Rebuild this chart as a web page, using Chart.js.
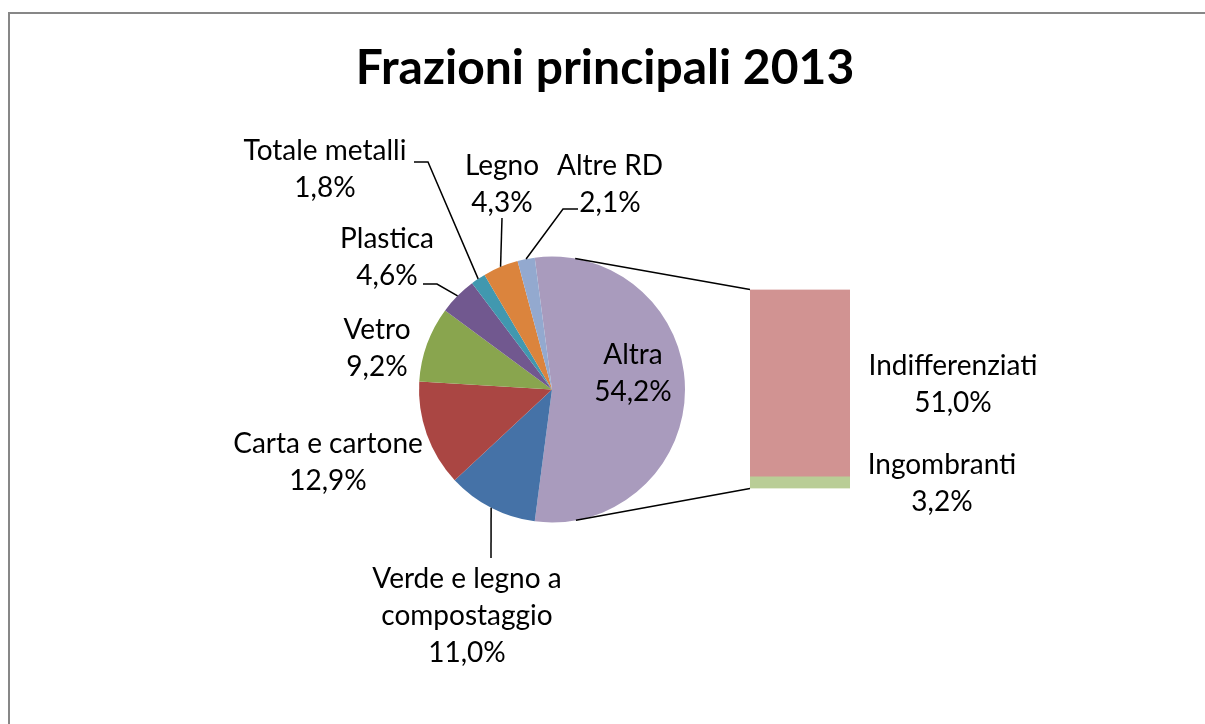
<!DOCTYPE html>
<html>
<head>
<meta charset="utf-8">
<script src="https://cdn.jsdelivr.net/npm/chart.js@4.4.1/dist/chart.umd.min.js"></script>
<style>
  html, body { margin: 0; padding: 0; background: #fff; overflow: hidden; }
  #wrap { position: relative; width: 1205px; height: 724px; }
  #frame { position: absolute; left: 8px; top: 12px; width: 1300px; height: 800px;
           border: 2px solid #878787; box-sizing: border-box; }
  canvas { position: absolute; left: 0; top: 0; }
</style>
</head>
<body>
<div id="wrap">
  <div id="frame"></div>
  <canvas id="pie" width="1205" height="724"></canvas>
  <canvas id="bar" width="1205" height="724"></canvas>
</div>
<script>
// data
const chartTitle = 'Frazioni principali 2013';
const pieLabels = ['Altra', ['Verde e legno a', 'compostaggio'], 'Carta e cartone', 'Vetro',
                   'Plastica', 'Totale metalli', 'Legno', 'Altre RD'];
const pieValues = [54.2, 11.0, 12.9, 9.2, 4.6, 1.8, 4.3, 2.1];
const pieColors = ['#A99BBD', '#4572A7', '#AA4643', '#89A54E', '#71588F', '#4198AF', '#DB843D', '#93A9CF'];
const barLabels = ['Ingombranti', 'Indifferenziati'];
const barValues = [3.2, 51.0];
const barColors = ['#B9CD96', '#D19392'];

// label layout (x centre, first baseline, leader points before the slice edge)
const pieLabelPos = [
  { x: 633, y: 364 },
  { x: 467, y: 588, leader: [[491, 558]] },
  { x: 328, y: 453 },
  { x: 377, y: 339 },
  { x: 387, y: 248, leader: [[423, 284], [437, 284]] },
  { x: 325, y: 160, leader: [[414, 162], [428, 162]] },
  { x: 502, y: 175, leader: [[502, 218]] },
  { x: 610, y: 175, leader: [[578, 209], [563, 209]] },
];
const barLabelPos = [{ x: 942, y: 474 }, { x: 953, y: 375 }];
const lineGap = 37;
const labelFont = '28px Lato';

const pct = v => v.toFixed(1).replace('.', ',') + '%';
const pieTotal = pieValues.reduce((a, b) => a + b, 0);

function drawLabel(ctx, lines, pos) {
  ctx.save();
  ctx.font = labelFont;
  ctx.fillStyle = '#000';
  ctx.textAlign = 'center';
  ctx.textBaseline = 'alphabetic';
  lines.forEach((t, i) => ctx.fillText(t, pos.x, pos.y + i * lineGap));
  ctx.restore();
}

const pieLabelPlugin = {
  id: 'pieLabels',
  afterDraw(chart) {
    const ctx = chart.ctx;
    ctx.save();
    ctx.font = 'bold 48px Lato';
    ctx.fillStyle = '#000';
    ctx.textAlign = 'center';
    ctx.fillText(chartTitle, 605, 84);
    ctx.restore();

    const arcs = chart.getDatasetMeta(0).data;
    arcs.forEach((arc, i) => {
      const pos = pieLabelPos[i];
      const name = [].concat(pieLabels[i]);
      drawLabel(ctx, name.concat(pct(pieValues[i])), pos);
      if (pos.leader) {
        const mid = (arc.startAngle + arc.endAngle) / 2;
        const ex = arc.x + arc.outerRadius * Math.cos(mid);
        const ey = arc.y + arc.outerRadius * Math.sin(mid);
        ctx.save();
        ctx.strokeStyle = '#000';
        ctx.lineWidth = 1.5;
        ctx.beginPath();
        pos.leader.forEach((p, k) => k ? ctx.lineTo(p[0], p[1]) : ctx.moveTo(p[0], p[1]));
        ctx.lineTo(ex, ey);
        ctx.stroke();
        ctx.restore();
      }
    });
  }
};

const pieChart = new Chart(document.getElementById('pie'), {
  type: 'pie',
  data: {
    labels: pieLabels,
    datasets: [{ data: pieValues, backgroundColor: pieColors, borderWidth: 0 }],
  },
  options: {
    responsive: false,
    animation: false,
    events: [],
    rotation: 90 - pieValues[0] / pieTotal * 180,
    layout: { padding: { left: 419, top: 256.5, right: 520, bottom: 201.5 } },
    plugins: { legend: { display: false }, tooltip: { enabled: false } },
  },
  plugins: [pieLabelPlugin],
});

function tangent(cx, cy, r, px, py, side) {
  const d = Math.hypot(px - cx, py - cy);
  const phi = Math.atan2(py - cy, px - cx);
  const a = phi + side * Math.acos(r / d);
  return [cx + r * Math.cos(a), cy + r * Math.sin(a)];
}

const barLabelPlugin = {
  id: 'barLabels',
  afterDraw(chart) {
    const ctx = chart.ctx;
    const topBar = chart.getDatasetMeta(1).data[0];
    const lowBar = chart.getDatasetMeta(0).data[0];
    const left = topBar.x - topBar.width / 2;
    const arc = pieChart.getDatasetMeta(0).data[0];
    const t1 = tangent(arc.x, arc.y, arc.outerRadius, left, topBar.y, -1);
    const t2 = tangent(arc.x, arc.y, arc.outerRadius, left, lowBar.base, 1);
    ctx.save();
    ctx.strokeStyle = '#000';
    ctx.lineWidth = 1.5;
    ctx.beginPath();
    ctx.moveTo(t1[0], t1[1]); ctx.lineTo(left, topBar.y);
    ctx.moveTo(t2[0], t2[1]); ctx.lineTo(left, lowBar.base);
    ctx.stroke();
    ctx.restore();
    barLabels.forEach((l, i) => drawLabel(ctx, [l, pct(barValues[i])], barLabelPos[i]));
  }
};

new Chart(document.getElementById('bar'), {
  type: 'bar',
  data: {
    labels: ['Altra'],
    datasets: barLabels.map((l, i) => ({
      label: l, data: [barValues[i]], backgroundColor: barColors[i],
      borderWidth: 0, barPercentage: 1, categoryPercentage: 1,
    })),
  },
  options: {
    responsive: false,
    animation: false,
    events: [],
    layout: { padding: { left: 750, right: 355, top: 289.5, bottom: 235.5 } },
    scales: {
      x: { stacked: true, display: false },
      y: { stacked: true, display: false, min: 0, max: barValues.reduce((a, b) => a + b, 0) },
    },
    plugins: { legend: { display: false }, tooltip: { enabled: false } },
  },
  plugins: [barLabelPlugin],
});
</script>
</body>
</html>
